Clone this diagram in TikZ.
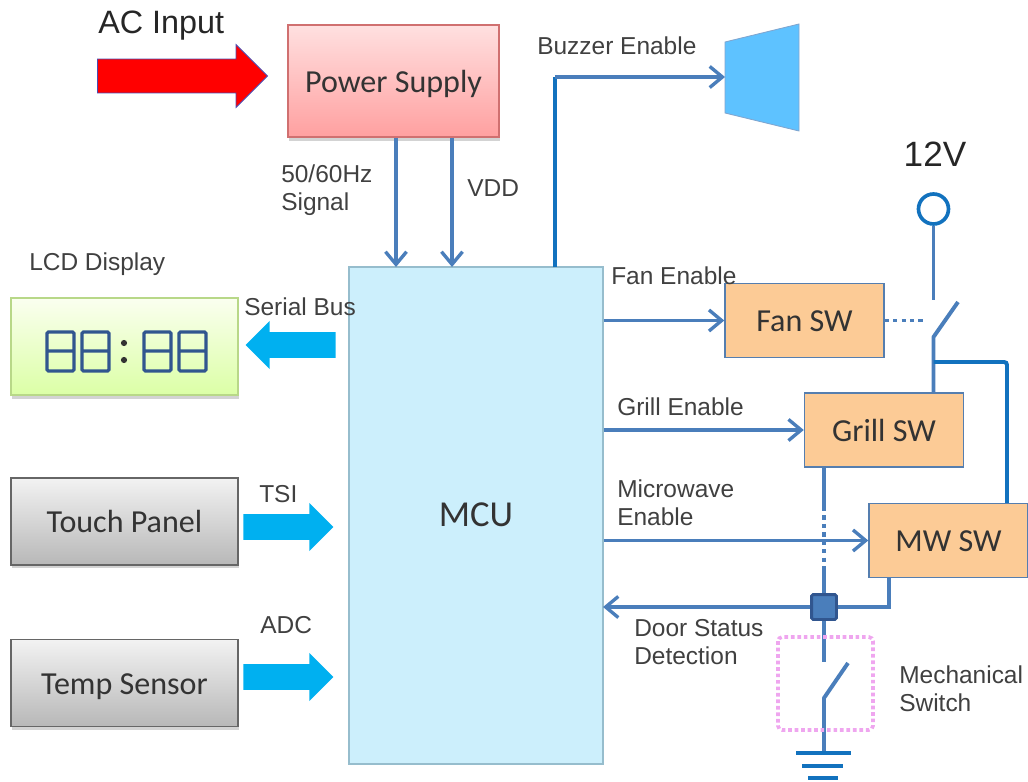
\documentclass[tikz,border=0pt]{standalone}
\usepackage{fontspec}
\setmainfont{Liberation Sans}
\newfontfamily\boxfont{Carlito}
\usetikzlibrary{arrows.meta,shapes.arrows,shadows}
\definecolor{wireblue}{HTML}{4A7EBB}
\definecolor{railblue}{HTML}{1272BE}
\definecolor{pipeblue}{HTML}{00B0F0}
\definecolor{boxorange}{HTML}{FCCB96}
\definecolor{digitblue}{HTML}{31568F}
\definecolor{hornblue}{HTML}{5EC2FF}
\definecolor{psutop}{HTML}{FFE0E0}
\definecolor{psubottom}{HTML}{FFA0A0}
\definecolor{psuedge}{HTML}{D07070}
\definecolor{lcdedge}{HTML}{B8D888}
\tikzset{
  shade box/.style={draw=#1, line width=1pt, drop shadow={shadow xshift=1pt,shadow yshift=-2.5pt,opacity=0.35}},
  sizedbox/.style 2 args={minimum width=#1cm, minimum height=#2cm, inner sep=0pt, text height=16pt, text depth=0pt, font=\boxfont\fontsize{22.8}{26}\selectfont, text=black!80},
  swbox/.style={sizedbox={3.975}{1.85}, fill=boxorange, draw=wireblue!80!gray, line width=1pt},
  graybox/.style={sizedbox={5.675}{2.17}, shade box=black!60, top color=black!5, bottom color=black!28},
  label/.style={anchor=west, align=left, inner sep=0pt, text=black!75, font=\fontsize{17.4}{19.6}\selectfont},
  pipe/.style={single arrow, draw=none, fill=pipeblue, inner xsep=0pt, inner ysep=0.315cm, minimum width=1.2cm, minimum height=2.25cm, single arrow head extend=0.275cm},
  wire/.style={draw=wireblue, line width=2.8pt},
  rail/.style={draw=railblue, line width=2.8pt},
  dotwire/.style={wire, dash pattern=on 3pt off 3pt},
  signal/.style={draw=wireblue, line width=2.4pt, -{Straight Barb[length=9pt,width=15pt,line width=2.4pt]}}
}
\begin{document}
\begin{tikzpicture}[x=0.025cm,y=-0.025cm]
    \useasboundingbox (0,0) rectangle (1028,782);
    % blocks
    \node[sizedbox={5.275}{2.8}, shade box=psuedge, top color=psutop, bottom color=psubottom] (psu) at (393.5,81) {Power Supply};
    \node[sizedbox={5.675}{2.425}, shade box=lcdedge, top color=green!30!yellow!6, bottom color=green!40!yellow!35] (lcd) at (124.5,346.5) {};
    \node[sizedbox={6.35}{12.425}, fill=cyan!20, draw=cyan!40!gray!70, line width=1pt] (mcu) at (476,515.5) {\fontsize{26}{30}\selectfont MCU};
    \node[graybox] (touch) at (124.5,521.5) {Touch Panel};
    \node[graybox] (temp) at (124.5,683) {Temp Sensor};
    \node[swbox] (fansw) at (804.5,320.5) {Fan SW};
    \node[swbox] (grillsw) at (884,430) {Grill SW};
    \node[swbox] (mwsw) at (948.5,540.5) {MW SW};
    % the digits on the display
    \foreach \dx in {47,82,144,179} {
        \draw[draw=digitblue, line width=2.2pt, rounded corners=1pt] (\dx,332) rectangle ++(27,39) (\dx,351) -- ++(27,0);
    }
    \fill[black!80] (124,343) circle (2.2pt) (124,360) circle (2.2pt);
    % wide arrows
    \node[single arrow, draw=blue!40!gray, line width=0.6pt, fill=red, inner xsep=0pt, inner ysep=0.4125cm, minimum width=1.55cm, minimum height=4.25cm, single arrow head extend=0.3625cm] (acin) at (174,76) {};
    \node[pipe, shape border rotate=180] (busarrow) at (297,345) {};
    \node[pipe] (tsiarrow) at (282,527) {};
    \node[pipe] (adcarrow) at (282,677) {};
    % buzzer
    \fill[fill=hornblue, draw=wireblue!70, line width=0.6pt] (725,42) -- (799,24) -- (799,131) -- (725,113) -- cycle;
    \coordinate (spkin) at (725,77);
    \coordinate (spkout) at (555,267);
    \coordinate (spkbend) at (555,77);
    \draw[rail] (spkout) -- (spkbend);
    \draw[signal] (spkbend) -- (spkin);
    % supply lines
    \coordinate (sigin) at (396,267);
    \coordinate (vddin) at (452,267);
    \draw[signal] (psu.south -| sigin) -- (sigin);
    \draw[signal] (psu.south -| vddin) -- (vddin);
    % enables
    \draw[signal] (mcu.east |- fansw.west) -- (fansw.west);
    \draw[signal] (mcu.east |- grillsw.west) -- (grillsw.west);
    % 12V side
    \node[circle, draw=railblue, line width=2.6pt, minimum size=0.75cm, inner sep=0pt] (vcc) at (933.5,209) {};
    \coordinate (fanopen) at (933.5,300);
    \coordinate (fanhinge) at (933.5,337);
    \coordinate (fanblade) at (958,302);
    \coordinate (railtap) at (933.5,362);
    \coordinate (fanlink) at (925,320.5);
    \draw[wire] (vcc) -- (fanopen);
    \draw[wire, line join=round] (fanblade) -- (fanhinge) -- (grillsw.north -| fanhinge);
    \draw[dotwire] (fansw.east) -- (fanlink);
    \draw[rail, rounded corners=2pt] (railtap) -| (mwsw.north -| 1007,0);
    % door detect
    \node[draw=digitblue, fill=wireblue, line width=2pt, rounded corners=1pt, minimum size=0.62cm, inner sep=0pt] (junction) at (824,607) {};
    \coordinate (mwtap) at (889,577);
    \coordinate (doorin) at (603,607);
    \coordinate (gridash) at (824,507);
    \coordinate (gridashend) at (824,567);
    \coordinate (dooropen) at (824,662);
    \coordinate (doorhinge) at (824,698);
    \coordinate (doorblade) at (848,663);
    \coordinate (gnd) at (824,753);
    \draw[wire] (grillsw.south -| gridash) -- (gridash);
    \draw[dotwire] (gridash) -- (gridashend);
    \draw[wire] (gridashend) -- (junction);
    \draw[signal] (mcu.east |- mwsw.west) -- (mwsw.west);
    \draw[signal, line width=2.8pt] (junction) -- (doorin);
    \draw[wire] (mwtap) |- (junction);
    \draw[wire] (junction) -- (dooropen);
    \draw[wire, line join=round] (doorblade) -- (doorhinge) -- (gnd);
    \draw[draw=violet!35!magenta!35, line width=2.6pt, dotted, rounded corners=3pt] (778,637) rectangle (873,730);
    \draw[rail] (796,753) -- (851,753) (802,766) -- (843,766) (808,778) -- (838,778);
    % labels
    \node[label, font=\fontsize{23}{27}\selectfont, text=black!85] (acl) at (98,26) {AC Input};
    \node[label] (buzl) at (537,46) {Buzzer Enable};
    \node[label] (sigl) at (281,190) {50/60Hz\\Signal};
    \node[label] (vddl) at (467,188) {VDD};
    \node[label] (lcdl) at (29,264) {LCD Display};
    \node[label] (busl) at (244,307) {Serial Bus};
    \node[label] (fanl) at (611,276) {Fan Enable};
    \node[label] (grilll) at (617,407) {Grill Enable};
    \node[label] (mwl) at (617,503) {Microwave\\Enable};
    \node[label] (tsil) at (259,494) {TSI};
    \node[label] (adcl) at (260,625) {ADC};
    \node[label] (doorl) at (634,642) {Door Status\\Detection};
    \node[label] (mechl) at (899,689) {Mechanical\\Switch};
    \node[label, anchor=center, font=\fontsize{25}{29}\selectfont, text=black!85] (vccl) at (935,154) {12V};
\end{tikzpicture}
\end{document}
